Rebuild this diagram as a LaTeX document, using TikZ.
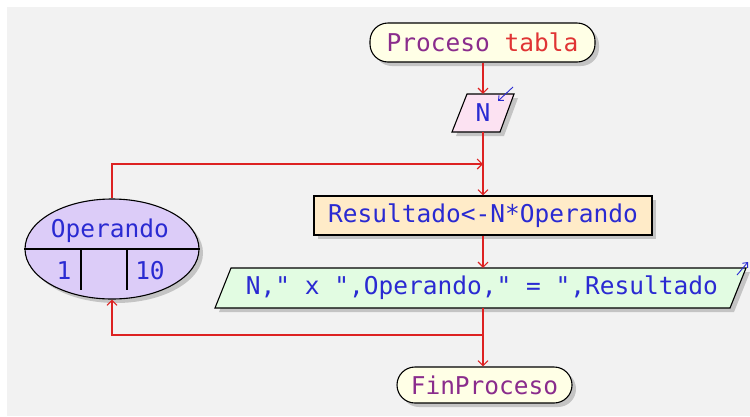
\documentclass[tikz,border=0pt]{standalone}
\usepackage{fontspec}
\setmonofont{DejaVu Sans Mono}
\usetikzlibrary{arrows.meta,shapes.geometric,shadows}
\definecolor{bg}{HTML}{F2F2F2}
\definecolor{kw}{HTML}{8A2C8C}
\definecolor{idc}{HTML}{E03434}
\definecolor{txt}{HTML}{2A2AD2}
\definecolor{flow}{HTML}{DD2222}
\definecolor{termfill}{HTML}{FFFFE6}
\definecolor{infill}{HTML}{FCE2F2}
\definecolor{asgfill}{HTML}{FFEBC8}
\definecolor{outfill}{HTML}{E2FCE2}
\definecolor{loopfill}{HTML}{DCCCF8}
\definecolor{shadowc}{HTML}{C4C4C4}
\tikzset{
  shad/.style={drop shadow={shadow xshift=4pt,shadow yshift=-4pt,fill=shadowc,opacity=1}},
  term/.style={draw=black,line width=1.1pt,fill=termfill,rounded corners=18pt,inner sep=0pt,shad,text=kw},
  asgbox/.style={draw=black,line width=1.1pt,fill=asgfill,inner sep=0pt,shad,text=txt},
  loopst/.style={ellipse,draw=black,line width=1.1pt,fill=loopfill,inner sep=0pt,shad},
  ghost/.style={inner sep=0pt,text=txt},
  poly/.style={draw=black,line width=1.1pt},
  polyshadow/.style={fill=shadowc},
  flowline/.style={draw=flow,line width=1.1pt},
  flowarrow/.style={flowline,-{Straight Barb[length=5pt,width=10pt]}},
  ioarrow/.style={draw=txt,line width=0.9pt,-{Straight Barb[length=4pt,width=7pt]}},
  lbl/.style={inner sep=0pt,text=txt}
}
\begin{document}
\begin{tikzpicture}[x=1pt,y=-1pt,font=\ttfamily\fontsize{24.5}{28}\selectfont]
\useasboundingbox (0,0) rectangle (750,416);
\fill[white] (0,0) rectangle (750,416);
\fill[bg] (7,7) rectangle (750,416);

% start
\node[term,minimum width=225,minimum height=39] (start) at (482.5,42.5) {Proceso {\color{idc}tabla}};

% input N
\node[ghost,minimum width=63,minimum height=38] (inp) at (483,113) {};
\fill[polyshadow] ([shift={(-12,-15)}]inp.center) -- ([shift={(35,-15)}]inp.center) -- ([shift={(21,23)}]inp.center) -- ([shift={(-27,23)}]inp.center) -- cycle;
\draw[poly,fill=infill] ([shift={(-16,-19)}]inp.center) -- ([shift={(31,-19)}]inp.center) -- ([shift={(17,19)}]inp.center) -- ([shift={(-31,19)}]inp.center) -- cycle;
\node[lbl] (inptext) at (inp.center) {N};
\coordinate (inarrA) at ([shift={(30,-26)}]inp.center);
\coordinate (inarrB) at ([shift={(15,-12)}]inp.center);
\draw[ioarrow] (inarrA) -- (inarrB);

% assignment
\node[asgbox,minimum width=338,minimum height=39] (asg) at (483,215.5) {Resultado<-N*Operando};

% output
\node[ghost,minimum width=481,minimum height=40] (outn) at (482,288) {};
\fill[polyshadow] ([shift={(-247,-16)}]outn.center) -- ([shift={(268,-16)}]outn.center) -- ([shift={(252,24)}]outn.center) -- ([shift={(-263,24)}]outn.center) -- cycle;
\draw[poly,fill=outfill] ([shift={(-251,-20)}]outn.center) -- ([shift={(264,-20)}]outn.center) -- ([shift={(248,20)}]outn.center) -- ([shift={(-267,20)}]outn.center) -- cycle;
\node[lbl] (outtext) at (outn.center) {N," x ",Operando," = ",Resultado};
\coordinate (outarrA) at ([shift={(255,-13)}]outn.center);
\coordinate (outarrB) at ([shift={(266,-26)}]outn.center);
\draw[ioarrow] (outarrA) -- (outarrB);

% loop ellipse
\node[loopst,minimum width=174,minimum height=100] (loop) at (112,249) {};
\draw[line width=1.1pt] (loop.west) -- (loop.east);
\draw[line width=1.1pt] ([shift={(-31,0)}]loop.center) -- ++(0,41);
\draw[line width=1.1pt] ([shift={(15,0)}]loop.center) -- ++(0,41);
\node[lbl] (lvar) at (110,231) {Operando};
\node[lbl] (lfrom) at (64,271) {1};
\node[lbl] (lto) at (150,271) {10};

% end
\node[term,minimum width=175,minimum height=36] (fin) at (484.5,385) {FinProceso};

% connectors
\coordinate (j1) at (483,164);
\coordinate (j2) at (483,335);
\draw[flowarrow] (start.south -| inp.north) -- (inp.north);
\draw[flowline] (inp.south) -- (j1);
\draw[flowarrow] (j1) -- (asg.north);
\draw[flowarrow] (loop.north) |- (j1);
\draw[flowarrow] (asg.south) -- (asg.south |- outn.north);
\draw[flowline] (asg.south |- outn.south) -- (j2);
\draw[flowarrow] (j2) -- (j2 |- fin.north);
\draw[flowarrow] (j2) -| (loop.south);
\end{tikzpicture}
\end{document}
